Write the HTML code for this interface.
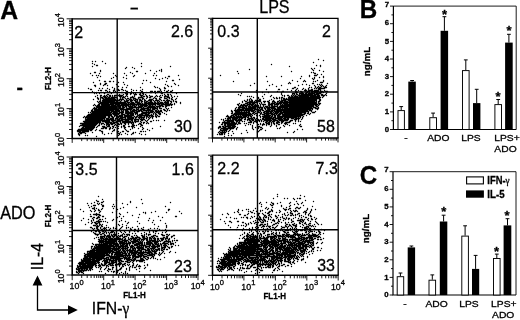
<!DOCTYPE html>
<html lang="en"><head><meta charset="utf-8"><title>Figure</title>
<style>html,body{margin:0;padding:0;background:#fff;overflow:hidden}svg{display:block}</style>
</head><body>
<svg width="520" height="320" viewBox="0 0 520 320" font-family='"Liberation Sans", sans-serif' fill="#000">
<style>text{stroke:#000;stroke-width:.3px}</style>
<rect width="520" height="320" fill="#fff"/>
<path d="M92.5 61h.01M95.5 61h.01M102.5 61h.01M92.5 63h.01M105.5 63h.01M141.5 63h.01M94.5 64h.01M96.5 65h1M92.5 66h.01M141.5 66h.01M170.5 66h.01M126.5 67h.01M132.5 67h.01M125.5 68h.01M134.5 68h.01M161.5 69h.01M100.5 70h.01M150.5 70h.01M159.5 70h.01M161.5 70h.01M100.5 71h.01M136.5 71h1M156.5 71h.01M161.5 71h.01M94.5 72h1M130.5 72h.01M90.5 73h.01M99.5 73h.01M113.5 73h.01M124.5 73h.01M132.5 73h.01M145.5 73h.01M154.5 73h.01M92.5 75h.01M96.5 75h.01M98.5 75h.01M115.5 75h.01M126.5 75h.01M134.5 75h.01M153.5 75h.01M156.5 75h.01M178.5 75h.01M100.5 76h.01M116.5 76h.01M133.5 76h.01M168.5 76h1M97.5 77h.01M113.5 77h.01M123.5 77h.01M165.5 77h.01M111.5 78h.01M126.5 78h.01M155.5 78h.01M162.5 78h.01M167.5 78h.01M159.5 79h.01M179.5 79h.01M99.5 80h.01M143.5 80h.01M146.5 80h.01M172.5 80h1M104.5 81h1M109.5 81h1M113.5 81h.01M166.5 81h.01M93.5 82h.01M118.5 82h.01M123.5 82h.01M150.5 82h.01M100.5 83h.01M105.5 83h1M142.5 83h.01M174.5 83h.01M100.5 84h.01M104.5 84h1M116.5 84h.01M124.5 84h.01M165.5 84h.01M175.5 84h.01M94.5 85h1M103.5 85h.01M107.5 85h.01M127.5 85h.01M167.5 85h.01M178.5 85h.01M95.5 86h.01M118.5 86h.01M154.5 86h.01M168.5 86h.01M171.5 86h.01M112.5 87h.01M122.5 87h.01M126.5 87h.01M140.5 87h.01M155.5 87h.01M157.5 87h.01M164.5 87h.01M88.5 88h.01M99.5 88h.01M102.5 88h.01M107.5 88h.01M114.5 88h.01M159.5 88h.01M164.5 88h1M90.5 89h1M109.5 89h.01M114.5 89h.01M117.5 89h1M121.5 89h1M131.5 89h.01M142.5 89h.01M160.5 89h.01M98.5 90h.01M100.5 90h1M105.5 90h1M113.5 90h1M118.5 90h1M123.5 90h.01M125.5 90h.01M133.5 90h.01M136.5 90h.01M140.5 90h.01M160.5 90h.01M164.5 90h.01M168.5 90h.01M172.5 90h.01M92.5 91h.01M107.5 91h.01M109.5 91h.01M113.5 91h.01M115.5 91h.01M126.5 91h1M131.5 91h.01M141.5 91h1M150.5 91h2M154.5 91h1M157.5 91h2M161.5 91h.01M166.5 91h1M170.5 91h1M94.5 92h.01M96.5 92h.01M101.5 92h.01M103.5 92h.01M105.5 92h.01M109.5 92h1M113.5 92h.01M121.5 92h1M139.5 92h.01M146.5 92h.01M150.5 92h1M155.5 92h.01M157.5 92h.01M160.5 92h.01M164.5 92h.01M167.5 92h.01M172.5 92h.01M94.5 93h.01M96.5 93h.01M99.5 93h.01M104.5 93h.01M111.5 93h.01M125.5 93h2M130.5 93h1M133.5 93h.01M135.5 93h.01M140.5 93h.01M142.5 93h1M155.5 93h.01M161.5 93h1M176.5 93h.01M107.5 94h1M119.5 94h.01M123.5 94h.01M126.5 94h1M130.5 94h.01M134.5 94h2M139.5 94h1M143.5 94h.01M145.5 94h.01M164.5 94h.01M167.5 94h1M170.5 94h.01M97.5 95h.01M100.5 95h1M104.5 95h.01M106.5 95h.01M109.5 95h1M112.5 95h.01M114.5 95h2M118.5 95h4M126.5 95h.01M134.5 95h.01M140.5 95h2M146.5 95h.01M149.5 95h.01M156.5 95h.01M160.5 95h.01M162.5 95h.01M165.5 95h.01M168.5 95h.01M171.5 95h.01M95.5 96h.01M100.5 96h.01M103.5 96h2M107.5 96h.01M109.5 96h1M112.5 96h.01M114.5 96h.01M119.5 96h2M123.5 96h.01M125.5 96h.01M127.5 96h.01M132.5 96h.01M134.5 96h.01M141.5 96h.01M143.5 96h1M146.5 96h1M150.5 96h2M155.5 96h.01M157.5 96h.01M159.5 96h.01M164.5 96h4M171.5 96h.01M174.5 96h.01M177.5 96h.01M97.5 97h.01M100.5 97h2M104.5 97h2M108.5 97h1M111.5 97h5M120.5 97h.01M122.5 97h2M130.5 97h3M138.5 97h4M147.5 97h.01M149.5 97h1M154.5 97h.01M160.5 97h1M164.5 97h.01M167.5 97h2M172.5 97h.01M97.5 98h1M100.5 98h.01M102.5 98h1M105.5 98h9M117.5 98h.01M120.5 98h.01M122.5 98h.01M125.5 98h.01M127.5 98h1M130.5 98h.01M133.5 98h2M138.5 98h.01M142.5 98h1M146.5 98h.01M153.5 98h.01M155.5 98h1M159.5 98h.01M164.5 98h2M169.5 98h.01M171.5 98h.01M176.5 98h.01M93.5 99h.01M98.5 99h.01M100.5 99h.01M103.5 99h12M117.5 99h.01M119.5 99h4M126.5 99h.01M129.5 99h2M133.5 99h.01M135.5 99h2M139.5 99h1M142.5 99h.01M144.5 99h.01M149.5 99h3M156.5 99h.01M159.5 99h1M167.5 99h.01M171.5 99h1M175.5 99h.01M100.5 100h.01M102.5 100h17M121.5 100h.01M124.5 100h.01M126.5 100h2M130.5 100h2M134.5 100h1M137.5 100h.01M139.5 100h2M144.5 100h1M148.5 100h3M153.5 100h.01M155.5 100h3M161.5 100h.01M163.5 100h1M166.5 100h3M173.5 100h.01M97.5 101h.01M99.5 101h1M102.5 101h12M116.5 101h1M120.5 101h.01M124.5 101h3M130.5 101h1M135.5 101h2M139.5 101h.01M141.5 101h1M144.5 101h.01M146.5 101h1M150.5 101h1M154.5 101h.01M157.5 101h.01M159.5 101h.01M165.5 101h.01M167.5 101h1M170.5 101h1M173.5 101h.01M175.5 101h1M98.5 102h.01M100.5 102h25M127.5 102h2M131.5 102h2M135.5 102h4M141.5 102h.01M144.5 102h2M148.5 102h4M154.5 102h1M157.5 102h1M160.5 102h2M164.5 102h4M171.5 102h.01M176.5 102h.01M180.5 102h.01M99.5 103h9M110.5 103h16M128.5 103h.01M130.5 103h4M137.5 103h3M142.5 103h.01M144.5 103h19M165.5 103h3M170.5 103h.01M174.5 103h.01M180.5 103h.01M94.5 104h.01M98.5 104h1M101.5 104h12M115.5 104h4M121.5 104h25M148.5 104h7M157.5 104h2M161.5 104h11M174.5 104h.01M93.5 105h.01M95.5 105h.01M97.5 105h2M101.5 105h8M111.5 105h4M117.5 105h11M130.5 105h.01M132.5 105h2M136.5 105h.01M138.5 105h.01M140.5 105h7M149.5 105h1M152.5 105h.01M155.5 105h.01M159.5 105h3M165.5 105h4M171.5 105h.01M96.5 106h20M118.5 106h2M122.5 106h1M125.5 106h1M128.5 106h4M134.5 106h1M138.5 106h4M144.5 106h2M148.5 106h6M156.5 106h4M162.5 106h1M165.5 106h1M94.5 107h.01M96.5 107h20M118.5 107h2M122.5 107h2M126.5 107h.01M129.5 107h12M143.5 107h.01M147.5 107h8M157.5 107h.01M159.5 107h.01M165.5 107h.01M171.5 107h.01M93.5 108h3M98.5 108h18M118.5 108h5M126.5 108h6M136.5 108h.01M138.5 108h.01M141.5 108h7M150.5 108h.01M152.5 108h5M159.5 108h2M166.5 108h.01M168.5 108h.01M92.5 109h.01M94.5 109h24M120.5 109h11M133.5 109h1M136.5 109h2M140.5 109h4M147.5 109h3M152.5 109h2M157.5 109h.01M163.5 109h1M167.5 109h.01M91.5 110h1M94.5 110h19M115.5 110h4M121.5 110h.01M123.5 110h.01M125.5 110h2M130.5 110h.01M132.5 110h4M138.5 110h3M143.5 110h9M155.5 110h1M158.5 110h.01M160.5 110h1M164.5 110h1M167.5 110h.01M169.5 110h.01M91.5 111h18M111.5 111h5M118.5 111h1M121.5 111h2M125.5 111h3M130.5 111h4M136.5 111h3M141.5 111h1M146.5 111h.01M148.5 111h.01M150.5 111h3M155.5 111h6M166.5 111h.01M88.5 112h.01M90.5 112h.01M92.5 112h19M113.5 112h3M119.5 112h4M125.5 112h7M134.5 112h3M142.5 112h10M154.5 112h.01M156.5 112h3M162.5 112h.01M91.5 113h19M112.5 113h7M121.5 113h1M125.5 113h8M135.5 113h2M141.5 113h5M148.5 113h1M153.5 113h.01M155.5 113h.01M158.5 113h2M164.5 113h.01M88.5 114h23M113.5 114h3M118.5 114h.01M121.5 114h3M127.5 114h1M130.5 114h3M135.5 114h.01M137.5 114h.01M139.5 114h3M145.5 114h3M151.5 114h.01M153.5 114h.01M155.5 114h1M159.5 114h1M166.5 114h.01M87.5 115h24M114.5 115h2M119.5 115h3M124.5 115h9M137.5 115h15M155.5 115h.01M157.5 115h.01M84.5 116h.01M86.5 116h19M108.5 116h1M111.5 116h1M114.5 116h.01M116.5 116h6M124.5 116h7M134.5 116h.01M136.5 116h1M139.5 116h2M144.5 116h.01M146.5 116h1M149.5 116h.01M151.5 116h2M155.5 116h1M158.5 116h1M83.5 117h.01M85.5 117h20M108.5 117h1M112.5 117h1M116.5 117h.01M118.5 117h.01M120.5 117h5M127.5 117h6M135.5 117h1M138.5 117h6M146.5 117h.01M148.5 117h.01M150.5 117h.01M152.5 117h.01M156.5 117h.01M85.5 118h.01M87.5 118h17M106.5 118h2M110.5 118h3M115.5 118h2M119.5 118h3M125.5 118h.01M127.5 118h6M135.5 118h.01M139.5 118h.01M141.5 118h.01M143.5 118h.01M146.5 118h.01M149.5 118h.01M152.5 118h.01M85.5 119h17M104.5 119h.01M106.5 119h7M115.5 119h.01M117.5 119h2M121.5 119h11M134.5 119h4M140.5 119h4M148.5 119h.01M85.5 120h24M111.5 120h4M117.5 120h5M125.5 120h3M131.5 120h1M134.5 120h1M138.5 120h.01M141.5 120h1M145.5 120h.01M147.5 120h.01M153.5 120h.01M156.5 120h.01M158.5 120h.01M164.5 120h.01M83.5 121h17M102.5 121h7M112.5 121h1M116.5 121h4M122.5 121h8M132.5 121h.01M134.5 121h4M140.5 121h.01M146.5 121h.01M150.5 121h1M84.5 122h16M105.5 122h6M113.5 122h3M120.5 122h.01M122.5 122h11M135.5 122h.01M141.5 122h.01M143.5 122h1M147.5 122h.01M80.5 123h17M99.5 123h.01M101.5 123h2M106.5 123h2M110.5 123h4M117.5 123h1M120.5 123h1M124.5 123h1M128.5 123h.01M131.5 123h.01M133.5 123h.01M139.5 123h1M143.5 123h.01M146.5 123h.01M148.5 123h.01M82.5 124h14M99.5 124h.01M101.5 124h.01M104.5 124h.01M106.5 124h3M111.5 124h1M115.5 124h.01M118.5 124h1M121.5 124h.01M125.5 124h.01M128.5 124h.01M132.5 124h1M138.5 124h.01M140.5 124h1M80.5 125h15M98.5 125h1M106.5 125h.01M108.5 125h1M114.5 125h.01M116.5 125h1M123.5 125h1M132.5 125h2M136.5 125h.01M141.5 125h1M79.5 126h.01M83.5 126h11M97.5 126h.01M102.5 126h2M107.5 126h2M112.5 126h1M118.5 126h.01M121.5 126h.01M123.5 126h1M128.5 126h1M131.5 126h2M140.5 126h.01M160.5 126h.01M82.5 127h1M85.5 127h9M96.5 127h.01M103.5 127h3M110.5 127h.01M113.5 127h.01M115.5 127h.01M121.5 127h.01M124.5 127h1M132.5 127h.01M134.5 127h.01M142.5 127h.01M81.5 128h12M101.5 128h2M105.5 128h1M109.5 128h1M112.5 128h.01M117.5 128h1M124.5 128h.01M132.5 128h.01M138.5 128h.01M143.5 128h.01M152.5 128h.01M78.5 129h14M96.5 129h.01M109.5 129h.01M114.5 129h.01M125.5 129h.01M130.5 129h.01M142.5 129h.01M147.5 129h.01M77.5 130h11M90.5 130h1M95.5 130h.01M99.5 130h1M113.5 130h1M126.5 130h.01M149.5 130h.01M77.5 131h3M82.5 131h6M101.5 131h1M112.5 131h.01M117.5 131h1M122.5 131h1M127.5 131h1M140.5 131h1M143.5 131h.01M145.5 131h.01M79.5 132h5M92.5 132h.01M102.5 132h.01M117.5 132h.01M120.5 132h.01M133.5 132h.01M135.5 132h.01M78.5 133h.01M80.5 133h1M85.5 133h.01M102.5 133h.01M108.5 133h.01M111.5 133h.01M118.5 133h1M125.5 133h.01M132.5 133h1M139.5 133h.01M78.5 134h1M104.5 134h.01M119.5 134h.01M121.5 134h.01M127.5 134h.01M131.5 134h.01M141.5 134h.01M145.5 134h.01M79.5 135h.01M85.5 135h.01M87.5 135h.01M118.5 135h.01M96.5 136h.01" stroke="#000" stroke-width="1.4" stroke-linecap="round" fill="none" transform="translate(0 0.5)"/>
<path d="M72.2 18.8H198.2V138.5" stroke="#000" stroke-width="1.3" fill="none"/>
<path d="M72.2 18.3V138.5H198.7" stroke="#000" stroke-width="1.6" fill="none"/>
<path d="M117.2 18.8V138.5M72.2 92.6H198.2" stroke="#000" stroke-width="1.4" fill="none"/>
<path d="M72.2 138.5v4.4M72.2 138.5h-5.6M81.7 138.5v2.6M72.2 129.5h-3.2M87.2 138.5v2.6M72.2 124.2h-3.2M91.2 138.5v2.6M72.2 120.5h-3.2M94.2 138.5v2.6M72.2 117.6h-3.2M96.7 138.5v2.6M72.2 115.2h-3.2M98.8 138.5v2.6M72.2 113.2h-3.2M100.6 138.5v2.6M72.2 111.5h-3.2M102.3 138.5v2.6M72.2 109.9h-3.2M103.7 138.5v4.4M72.2 108.6h-5.6M113.2 138.5v2.6M72.2 99.6h-3.2M118.7 138.5v2.6M72.2 94.3h-3.2M122.7 138.5v2.6M72.2 90.6h-3.2M125.7 138.5v2.6M72.2 87.7h-3.2M128.2 138.5v2.6M72.2 85.3h-3.2M130.3 138.5v2.6M72.2 83.3h-3.2M132.1 138.5v2.6M72.2 81.6h-3.2M133.8 138.5v2.6M72.2 80.0h-3.2M135.2 138.5v4.4M72.2 78.7h-5.6M144.7 138.5v2.6M72.2 69.6h-3.2M150.2 138.5v2.6M72.2 64.4h-3.2M154.2 138.5v2.6M72.2 60.6h-3.2M157.2 138.5v2.6M72.2 57.7h-3.2M159.7 138.5v2.6M72.2 55.4h-3.2M161.8 138.5v2.6M72.2 53.4h-3.2M163.6 138.5v2.6M72.2 51.6h-3.2M165.3 138.5v2.6M72.2 50.1h-3.2M166.7 138.5v4.4M72.2 48.7h-5.6M176.2 138.5v2.6M72.2 39.7h-3.2M181.7 138.5v2.6M72.2 34.4h-3.2M185.7 138.5v2.6M72.2 30.7h-3.2M188.7 138.5v2.6M72.2 27.8h-3.2M191.2 138.5v2.6M72.2 25.4h-3.2M193.3 138.5v2.6M72.2 23.4h-3.2M195.1 138.5v2.6M72.2 21.7h-3.2M196.8 138.5v2.6M72.2 20.2h-3.2M198.2 138.5v4.4M72.2 18.8h-5.6" stroke="#000" stroke-width="0.9" fill="none"/>
<text font-size="8.8" text-anchor="middle" transform="translate(63.900000000000006 139.8) rotate(-90)">10<tspan dy="-4.4" font-size="7.5">0</tspan></text>
<text font-size="8.8" text-anchor="middle" transform="translate(63.900000000000006 109.875) rotate(-90)">10<tspan dy="-4.4" font-size="7.5">1</tspan></text>
<text font-size="8.8" text-anchor="middle" transform="translate(63.900000000000006 79.95) rotate(-90)">10<tspan dy="-4.4" font-size="7.5">2</tspan></text>
<text font-size="8.8" text-anchor="middle" transform="translate(63.900000000000006 50.02499999999999) rotate(-90)">10<tspan dy="-4.4" font-size="7.5">3</tspan></text>
<text font-size="8.8" text-anchor="middle" transform="translate(63.900000000000006 20.099999999999998) rotate(-90)">10<tspan dy="-4.4" font-size="7.5">4</tspan></text>
<text transform="translate(51.2 78.65) rotate(-90) scale(0.89 1)" font-size="9" text-anchor="middle" font-weight="bold">FL2-H</text>
<path d="M318.5 59h.01M323.5 60h.01M313.5 62h.01M271.5 64h.01M316.5 65h.01M320.5 65h.01M289.5 66h.01M320.5 66h.01M311.5 68h.01M314.5 68h.01M249.5 69h.01M312.5 69h.01M313.5 70h.01M319.5 70h.01M237.5 71h.01M291.5 71h.01M323.5 71h.01M311.5 72h.01M313.5 72h.01M238.5 73h.01M314.5 73h1M317.5 74h.01M321.5 74h.01M220.5 75h.01M309.5 75h.01M314.5 75h2M266.5 76h.01M281.5 76h.01M301.5 76h.01M309.5 76h.01M323.5 76h.01M314.5 77h.01M319.5 77h.01M323.5 77h.01M300.5 78h.01M312.5 78h.01M314.5 78h.01M313.5 79h.01M292.5 80h.01M304.5 80h.01M317.5 80h.01M323.5 80h.01M233.5 81h.01M267.5 81h.01M297.5 81h.01M303.5 81h.01M305.5 81h.01M313.5 81h.01M315.5 81h.01M323.5 81h.01M289.5 82h.01M320.5 82h2M254.5 83h.01M288.5 83h.01M290.5 83h.01M312.5 83h1M327.5 83h.01M272.5 84h.01M302.5 84h.01M306.5 84h.01M317.5 84h.01M319.5 84h.01M321.5 84h.01M250.5 85h.01M269.5 85h.01M281.5 85h.01M298.5 85h.01M309.5 85h.01M314.5 85h.01M320.5 85h.01M322.5 85h.01M326.5 85h.01M276.5 86h.01M315.5 86h.01M318.5 86h.01M321.5 86h.01M323.5 86h.01M325.5 86h.01M294.5 87h1M309.5 87h.01M311.5 87h.01M315.5 87h.01M317.5 87h.01M319.5 87h1M324.5 87h2M292.5 88h1M297.5 88h.01M303.5 88h.01M308.5 88h.01M314.5 88h.01M316.5 88h.01M318.5 88h6M266.5 89h.01M278.5 89h1M287.5 89h.01M296.5 89h.01M302.5 89h.01M305.5 89h.01M308.5 89h.01M311.5 89h1M318.5 89h2M256.5 90h.01M291.5 90h.01M295.5 90h.01M298.5 90h.01M304.5 90h2M308.5 90h4M314.5 90h4M320.5 90h.01M324.5 90h.01M277.5 91h.01M282.5 91h1M295.5 91h1M300.5 91h1M305.5 91h.01M307.5 91h2M311.5 91h7M320.5 91h2M325.5 91h2M256.5 92h.01M262.5 92h.01M268.5 92h.01M281.5 92h.01M295.5 92h2M301.5 92h1M306.5 92h1M309.5 92h.01M311.5 92h1M314.5 92h3M319.5 92h2M323.5 92h.01M241.5 93h.01M281.5 93h.01M292.5 93h2M296.5 93h.01M299.5 93h4M305.5 93h1M308.5 93h6M316.5 93h4M326.5 93h.01M238.5 94h.01M264.5 94h.01M281.5 94h.01M292.5 94h.01M294.5 94h.01M296.5 94h1M299.5 94h.01M301.5 94h11M314.5 94h4M321.5 94h1M325.5 94h.01M240.5 95h.01M271.5 95h.01M282.5 95h.01M284.5 95h.01M287.5 95h1M291.5 95h.01M293.5 95h.01M295.5 95h.01M298.5 95h17M317.5 95h2M321.5 95h3M326.5 95h.01M247.5 96h.01M249.5 96h.01M251.5 96h.01M262.5 96h.01M270.5 96h.01M284.5 96h.01M289.5 96h.01M291.5 96h1M294.5 96h3M299.5 96h9M310.5 96h9M323.5 96h.01M253.5 97h.01M258.5 97h.01M273.5 97h.01M276.5 97h.01M279.5 97h.01M281.5 97h1M288.5 97h32M322.5 97h.01M250.5 98h.01M258.5 98h.01M263.5 98h.01M274.5 98h.01M276.5 98h1M279.5 98h.01M281.5 98h.01M283.5 98h1M286.5 98h.01M288.5 98h31M247.5 99h.01M249.5 99h.01M251.5 99h.01M259.5 99h1M271.5 99h.01M281.5 99h.01M283.5 99h33M319.5 99h1M244.5 100h.01M247.5 100h.01M249.5 100h.01M251.5 100h1M255.5 100h1M258.5 100h2M269.5 100h.01M273.5 100h.01M279.5 100h.01M281.5 100h4M288.5 100h28M319.5 100h1M242.5 101h.01M245.5 101h1M249.5 101h3M254.5 101h.01M256.5 101h.01M258.5 101h2M263.5 101h2M267.5 101h1M272.5 101h2M277.5 101h1M280.5 101h2M284.5 101h3M289.5 101h25M316.5 101h.01M318.5 101h1M242.5 102h.01M247.5 102h10M261.5 102h.01M264.5 102h.01M268.5 102h1M272.5 102h.01M274.5 102h1M277.5 102h.01M279.5 102h37M318.5 102h.01M239.5 103h.01M245.5 103h2M249.5 103h1M252.5 103h2M259.5 103h.01M261.5 103h.01M268.5 103h1M271.5 103h3M276.5 103h5M283.5 103h4M289.5 103h27M318.5 103h2M237.5 104h1M241.5 104h.01M243.5 104h1M247.5 104h6M255.5 104h.01M257.5 104h.01M260.5 104h.01M262.5 104h3M268.5 104h4M274.5 104h4M280.5 104h.01M282.5 104h.01M284.5 104h33M319.5 104h.01M238.5 105h.01M240.5 105h7M249.5 105h.01M251.5 105h1M254.5 105h2M258.5 105h.01M260.5 105h.01M263.5 105h.01M268.5 105h1M271.5 105h1M274.5 105h.01M277.5 105h.01M280.5 105h33M315.5 105h1M318.5 105h.01M239.5 106h1M242.5 106h1M245.5 106h1M248.5 106h2M252.5 106h4M258.5 106h.01M260.5 106h.01M263.5 106h.01M265.5 106h2M269.5 106h.01M271.5 106h6M279.5 106h34M316.5 106h1M236.5 107h.01M238.5 107h6M246.5 107h.01M248.5 107h7M257.5 107h5M264.5 107h.01M266.5 107h8M277.5 107h10M289.5 107h22M313.5 107h2M318.5 107h.01M235.5 108h.01M238.5 108h1M242.5 108h13M259.5 108h.01M261.5 108h1M264.5 108h1M267.5 108h2M271.5 108h4M277.5 108h3M282.5 108h.01M284.5 108h28M315.5 108h3M235.5 109h.01M237.5 109h6M245.5 109h7M254.5 109h4M260.5 109h2M265.5 109h.01M267.5 109h3M272.5 109h.01M274.5 109h36M312.5 109h.01M317.5 109h.01M231.5 110h.01M234.5 110h20M257.5 110h3M262.5 110h1M266.5 110h3M271.5 110h3M276.5 110h31M309.5 110h2M231.5 111h1M235.5 111h4M241.5 111h.01M244.5 111h.01M246.5 111h.01M248.5 111h1M251.5 111h2M255.5 111h.01M257.5 111h1M260.5 111h.01M264.5 111h8M274.5 111h7M283.5 111h25M311.5 111h.01M315.5 111h.01M232.5 112h.01M235.5 112h14M253.5 112h1M258.5 112h1M261.5 112h.01M263.5 112h1M266.5 112h2M270.5 112h1M273.5 112h.01M275.5 112h3M280.5 112h25M308.5 112h.01M312.5 112h2M231.5 113h1M234.5 113h12M248.5 113h2M252.5 113h1M255.5 113h1M260.5 113h1M264.5 113h8M274.5 113h3M279.5 113h3M284.5 113h17M304.5 113h1M307.5 113h1M310.5 113h.01M233.5 114h18M254.5 114h.01M260.5 114h.01M262.5 114h2M266.5 114h2M271.5 114h3M276.5 114h.01M278.5 114h2M282.5 114h22M309.5 114h.01M227.5 115h.01M231.5 115h2M235.5 115h1M238.5 115h.01M240.5 115h.01M242.5 115h8M252.5 115h.01M256.5 115h1M259.5 115h.01M264.5 115h6M272.5 115h.01M274.5 115h1M277.5 115h2M282.5 115h20M306.5 115h.01M226.5 116h2M230.5 116h1M233.5 116h1M236.5 116h5M243.5 116h3M248.5 116h.01M250.5 116h1M257.5 116h.01M260.5 116h.01M262.5 116h7M271.5 116h1M274.5 116h1M277.5 116h23M303.5 116h.01M228.5 117h17M247.5 117h1M251.5 117h.01M253.5 117h1M260.5 117h.01M263.5 117h8M273.5 117h2M277.5 117h5M284.5 117h12M298.5 117h.01M300.5 117h.01M302.5 117h.01M225.5 118h.01M227.5 118h3M232.5 118h5M239.5 118h.01M241.5 118h1M245.5 118h.01M248.5 118h4M254.5 118h.01M256.5 118h.01M262.5 118h1M265.5 118h8M275.5 118h6M283.5 118h2M287.5 118h1M291.5 118h2M295.5 118h4M302.5 118h.01M221.5 119h.01M223.5 119h.01M227.5 119h1M230.5 119h.01M232.5 119h4M238.5 119h3M244.5 119h1M247.5 119h2M251.5 119h2M255.5 119h.01M258.5 119h.01M260.5 119h.01M262.5 119h8M272.5 119h3M278.5 119h4M284.5 119h4M294.5 119h2M298.5 119h.01M301.5 119h.01M223.5 120h.01M225.5 120h8M235.5 120h6M247.5 120h.01M249.5 120h1M252.5 120h1M255.5 120h4M261.5 120h.01M264.5 120h7M273.5 120h4M279.5 120h8M290.5 120h2M295.5 120h.01M298.5 120h.01M224.5 121h.01M227.5 121h6M236.5 121h1M239.5 121h.01M242.5 121h.01M244.5 121h.01M250.5 121h1M254.5 121h2M259.5 121h.01M261.5 121h.01M263.5 121h.01M266.5 121h1M269.5 121h1M272.5 121h2M277.5 121h1M281.5 121h2M289.5 121h1M295.5 121h.01M298.5 121h.01M300.5 121h.01M219.5 122h.01M222.5 122h7M231.5 122h3M236.5 122h.01M238.5 122h1M248.5 122h3M253.5 122h.01M256.5 122h.01M265.5 122h1M268.5 122h1M271.5 122h.01M273.5 122h.01M276.5 122h3M281.5 122h1M285.5 122h4M222.5 123h.01M224.5 123h12M238.5 123h2M244.5 123h.01M246.5 123h.01M253.5 123h.01M260.5 123h.01M263.5 123h.01M266.5 123h3M271.5 123h.01M273.5 123h1M276.5 123h1M281.5 123h.01M284.5 123h2M293.5 123h.01M295.5 123h.01M221.5 124h1M224.5 124h1M227.5 124h8M237.5 124h.01M248.5 124h.01M250.5 124h.01M258.5 124h.01M260.5 124h.01M262.5 124h2M266.5 124h.01M268.5 124h1M271.5 124h.01M274.5 124h.01M278.5 124h1M285.5 124h.01M287.5 124h.01M300.5 124h.01M224.5 125h1M227.5 125h7M245.5 125h.01M252.5 125h.01M262.5 125h.01M266.5 125h.01M271.5 125h.01M276.5 125h.01M283.5 125h.01M289.5 125h.01M299.5 125h.01M219.5 126h1M222.5 126h1M225.5 126h5M232.5 126h3M252.5 126h.01M258.5 126h1M270.5 126h.01M276.5 126h.01M284.5 126h.01M300.5 126h1M218.5 127h2M223.5 127h2M228.5 127h6M237.5 127h.01M252.5 127h.01M255.5 127h.01M258.5 127h.01M260.5 127h1M280.5 127h.01M218.5 128h.01M221.5 128h12M236.5 128h.01M252.5 128h.01M258.5 128h.01M262.5 128h.01M277.5 128h.01M279.5 128h.01M220.5 129h.01M223.5 129h4M230.5 129h.01M236.5 129h.01M253.5 129h.01M260.5 129h1M297.5 129h.01M302.5 129h.01M220.5 130h6M229.5 130h.01M246.5 130h.01M259.5 130h.01M265.5 130h.01M219.5 131h.01M222.5 131h.01M224.5 131h.01M226.5 131h.01M228.5 131h.01M232.5 131h.01M257.5 131h1M294.5 131h.01M218.5 132h.01M220.5 132h5M247.5 132h.01M257.5 132h.01M287.5 132h.01M293.5 132h.01M219.5 133h.01M221.5 133h1M224.5 133h.01M228.5 133h.01M233.5 133h.01M241.5 133h.01M217.5 134h.01M219.5 134h3M224.5 134h.01M228.5 135h.01M231.5 135h.01M224.5 136h.01" stroke="#000" stroke-width="1.4" stroke-linecap="round" fill="none" transform="translate(0 0.5)"/>
<path d="M212.5 18.3H338V138" stroke="#000" stroke-width="1.3" fill="none"/>
<path d="M212.5 17.8V138H338.5" stroke="#000" stroke-width="1.6" fill="none"/>
<path d="M257.3 18.3V138M212.5 92H338" stroke="#000" stroke-width="1.4" fill="none"/>
<path d="M212.5 138v4.4M212.5 138.0h-4.4M221.9 138v2.6M212.5 129.0h-2.5M227.5 138v2.6M212.5 123.7h-2.5M231.4 138v2.6M212.5 120.0h-2.5M234.4 138v2.6M212.5 117.1h-2.5M236.9 138v2.6M212.5 114.7h-2.5M239.0 138v2.6M212.5 112.7h-2.5M240.8 138v2.6M212.5 111.0h-2.5M242.4 138v2.6M212.5 109.4h-2.5M243.9 138v4.4M212.5 108.1h-4.4M253.3 138v2.6M212.5 99.1h-2.5M258.8 138v2.6M212.5 93.8h-2.5M262.8 138v2.6M212.5 90.1h-2.5M265.8 138v2.6M212.5 87.2h-2.5M268.3 138v2.6M212.5 84.8h-2.5M270.4 138v2.6M212.5 82.8h-2.5M272.2 138v2.6M212.5 81.1h-2.5M273.8 138v2.6M212.5 79.5h-2.5M275.2 138v4.4M212.5 78.2h-4.4M284.7 138v2.6M212.5 69.1h-2.5M290.2 138v2.6M212.5 63.9h-2.5M294.1 138v2.6M212.5 60.1h-2.5M297.2 138v2.6M212.5 57.2h-2.5M299.7 138v2.6M212.5 54.9h-2.5M301.8 138v2.6M212.5 52.9h-2.5M303.6 138v2.6M212.5 51.1h-2.5M305.2 138v2.6M212.5 49.6h-2.5M306.6 138v4.4M212.5 48.2h-4.4M316.1 138v2.6M212.5 39.2h-2.5M321.6 138v2.6M212.5 33.9h-2.5M325.5 138v2.6M212.5 30.2h-2.5M328.6 138v2.6M212.5 27.3h-2.5M331.0 138v2.6M212.5 24.9h-2.5M333.1 138v2.6M212.5 22.9h-2.5M335.0 138v2.6M212.5 21.2h-2.5M336.6 138v2.6M212.5 19.7h-2.5M338.0 138v4.4M212.5 18.3h-4.4" stroke="#000" stroke-width="0.9" fill="none"/>
<path d="M98.5 196h.01M102.5 199h.01M141.5 199h.01M96.5 200h.01M116.5 200h.01M97.5 201h1M103.5 201h.01M130.5 201h.01M94.5 202h.01M101.5 202h1M130.5 202h.01M170.5 202h.01M87.5 203h.01M91.5 203h.01M97.5 203h.01M99.5 203h.01M122.5 203h.01M142.5 203h.01M98.5 204h.01M101.5 204h.01M113.5 204h.01M127.5 204h.01M88.5 205h.01M93.5 205h2M102.5 205h1M91.5 206h.01M102.5 206h1M112.5 206h.01M114.5 206h.01M165.5 206h.01M89.5 207h.01M94.5 207h.01M123.5 207h.01M136.5 207h.01M92.5 208h2M96.5 208h.01M102.5 208h.01M113.5 208h.01M120.5 208h.01M80.5 209h.01M94.5 209h.01M98.5 209h.01M101.5 209h.01M117.5 209h.01M168.5 209h1M90.5 210h.01M95.5 210h.01M98.5 210h1M168.5 210h.01M83.5 211h.01M91.5 211h.01M94.5 211h.01M100.5 211h.01M116.5 211h.01M155.5 211h.01M179.5 211h.01M99.5 212h.01M112.5 212h.01M127.5 212h.01M143.5 212h.01M145.5 212h.01M151.5 212h.01M166.5 212h.01M96.5 213h.01M119.5 213h.01M145.5 213h.01M181.5 213h.01M90.5 214h.01M93.5 214h6M120.5 214h.01M139.5 214h.01M96.5 215h.01M99.5 215h1M132.5 215h.01M90.5 216h1M98.5 216h.01M102.5 216h1M119.5 216h.01M123.5 216h.01M158.5 216h.01M175.5 216h1M93.5 217h1M97.5 217h2M116.5 217h1M138.5 217h.01M162.5 217h.01M83.5 218h.01M92.5 218h.01M96.5 218h1M105.5 218h.01M121.5 218h.01M149.5 218h.01M88.5 219h.01M93.5 219h.01M99.5 219h1M102.5 219h.01M113.5 219h.01M81.5 220h.01M91.5 220h.01M93.5 220h.01M98.5 220h.01M112.5 220h.01M121.5 220h.01M148.5 220h.01M153.5 220h.01M160.5 220h.01M91.5 221h.01M96.5 221h5M103.5 221h.01M105.5 221h.01M119.5 221h.01M125.5 221h.01M137.5 221h.01M88.5 222h.01M92.5 222h.01M94.5 222h1M98.5 222h1M107.5 222h.01M128.5 222h.01M152.5 222h.01M91.5 223h.01M95.5 223h2M99.5 223h.01M127.5 223h.01M139.5 223h.01M165.5 223h.01M85.5 224h.01M96.5 224h.01M99.5 224h1M102.5 224h.01M118.5 224h.01M122.5 224h.01M154.5 224h.01M93.5 225h2M97.5 225h.01M99.5 225h.01M101.5 225h.01M106.5 225h.01M119.5 225h.01M126.5 225h.01M166.5 225h.01M96.5 226h2M101.5 226h1M116.5 226h.01M122.5 226h.01M137.5 226h.01M158.5 226h.01M166.5 226h.01M90.5 227h1M96.5 227h1M100.5 227h.01M104.5 227h.01M106.5 227h.01M108.5 227h.01M113.5 227h.01M121.5 227h.01M126.5 227h.01M128.5 227h.01M132.5 227h.01M143.5 227h.01M166.5 227h.01M92.5 228h.01M94.5 228h.01M96.5 228h1M100.5 228h.01M103.5 228h2M110.5 228h.01M113.5 228h.01M115.5 228h1M120.5 228h.01M126.5 228h.01M130.5 228h.01M138.5 228h.01M141.5 228h.01M150.5 228h.01M154.5 228h.01M157.5 228h.01M93.5 229h.01M97.5 229h1M101.5 229h1M104.5 229h.01M106.5 229h.01M109.5 229h.01M116.5 229h.01M119.5 229h.01M130.5 229h1M134.5 229h1M138.5 229h.01M142.5 229h1M148.5 229h.01M159.5 229h.01M165.5 229h.01M98.5 230h1M101.5 230h.01M104.5 230h.01M106.5 230h.01M108.5 230h.01M130.5 230h.01M135.5 230h.01M137.5 230h1M147.5 230h.01M149.5 230h.01M152.5 230h.01M157.5 230h.01M162.5 230h.01M91.5 231h.01M95.5 231h1M98.5 231h1M102.5 231h1M105.5 231h.01M111.5 231h2M116.5 231h.01M120.5 231h.01M124.5 231h.01M129.5 231h.01M134.5 231h.01M137.5 231h1M149.5 231h.01M153.5 231h.01M155.5 231h1M166.5 231h.01M93.5 232h.01M99.5 232h1M104.5 232h.01M106.5 232h.01M108.5 232h.01M110.5 232h2M114.5 232h.01M121.5 232h.01M125.5 232h.01M129.5 232h.01M144.5 232h.01M149.5 232h.01M153.5 232h.01M162.5 232h.01M165.5 232h.01M94.5 233h1M99.5 233h.01M102.5 233h1M106.5 233h.01M109.5 233h.01M114.5 233h.01M118.5 233h.01M123.5 233h.01M132.5 233h.01M135.5 233h.01M141.5 233h.01M146.5 233h.01M155.5 233h.01M158.5 233h.01M95.5 234h3M100.5 234h1M104.5 234h.01M109.5 234h.01M111.5 234h.01M113.5 234h3M122.5 234h.01M124.5 234h.01M126.5 234h3M144.5 234h.01M146.5 234h.01M148.5 234h2M161.5 234h1M166.5 234h1M169.5 234h.01M97.5 235h.01M104.5 235h1M107.5 235h2M111.5 235h1M114.5 235h1M118.5 235h.01M120.5 235h2M127.5 235h.01M129.5 235h.01M134.5 235h.01M136.5 235h.01M141.5 235h1M144.5 235h.01M148.5 235h.01M153.5 235h2M162.5 235h2M168.5 235h.01M173.5 235h1M100.5 236h4M106.5 236h4M112.5 236h2M117.5 236h.01M119.5 236h1M122.5 236h.01M124.5 236h2M131.5 236h1M137.5 236h.01M142.5 236h2M146.5 236h.01M151.5 236h2M156.5 236h1M166.5 236h1M171.5 236h1M96.5 237h.01M98.5 237h.01M100.5 237h2M104.5 237h.01M106.5 237h.01M108.5 237h2M113.5 237h.01M117.5 237h1M123.5 237h1M128.5 237h.01M132.5 237h1M135.5 237h4M142.5 237h2M147.5 237h.01M149.5 237h1M152.5 237h.01M154.5 237h.01M163.5 237h1M166.5 237h1M171.5 237h.01M94.5 238h.01M100.5 238h3M105.5 238h2M109.5 238h3M114.5 238h6M122.5 238h.01M125.5 238h.01M128.5 238h.01M130.5 238h6M139.5 238h1M143.5 238h4M149.5 238h2M153.5 238h2M157.5 238h1M160.5 238h3M165.5 238h2M169.5 238h.01M174.5 238h.01M98.5 239h1M101.5 239h.01M103.5 239h12M117.5 239h5M124.5 239h1M128.5 239h1M131.5 239h.01M133.5 239h2M137.5 239h2M141.5 239h3M146.5 239h1M149.5 239h.01M151.5 239h.01M154.5 239h1M157.5 239h1M161.5 239h2M165.5 239h.01M168.5 239h1M99.5 240h4M105.5 240h1M108.5 240h8M119.5 240h.01M122.5 240h5M130.5 240h.01M133.5 240h4M139.5 240h.01M141.5 240h.01M143.5 240h.01M146.5 240h1M149.5 240h6M157.5 240h.01M159.5 240h.01M161.5 240h1M166.5 240h.01M168.5 240h.01M172.5 240h.01M174.5 240h.01M176.5 240h1M98.5 241h17M118.5 241h4M124.5 241h2M128.5 241h.01M131.5 241h7M140.5 241h.01M142.5 241h.01M147.5 241h3M152.5 241h6M160.5 241h.01M164.5 241h6M172.5 241h.01M99.5 242h4M105.5 242h9M116.5 242h.01M119.5 242h5M126.5 242h.01M128.5 242h2M132.5 242h3M138.5 242h4M144.5 242h.01M146.5 242h5M154.5 242h3M163.5 242h1M168.5 242h.01M170.5 242h.01M175.5 242h.01M92.5 243h.01M99.5 243h.01M101.5 243h.01M103.5 243h12M117.5 243h.01M119.5 243h11M132.5 243h1M136.5 243h6M144.5 243h.01M146.5 243h6M154.5 243h2M158.5 243h.01M160.5 243h.01M162.5 243h5M170.5 243h3M93.5 244h.01M95.5 244h12M109.5 244h2M113.5 244h5M120.5 244h.01M122.5 244h2M126.5 244h1M129.5 244h.01M134.5 244h5M141.5 244h1M144.5 244h.01M146.5 244h4M152.5 244h1M155.5 244h3M160.5 244h1M164.5 244h1M168.5 244h.01M170.5 244h1M173.5 244h.01M95.5 245h1M98.5 245h15M115.5 245h.01M117.5 245h1M120.5 245h3M125.5 245h2M129.5 245h.01M131.5 245h1M134.5 245h3M139.5 245h6M149.5 245h1M152.5 245h2M157.5 245h2M161.5 245h.01M163.5 245h3M175.5 245h.01M178.5 245h.01M91.5 246h1M94.5 246h.01M96.5 246h19M117.5 246h10M130.5 246h3M137.5 246h2M141.5 246h.01M143.5 246h.01M145.5 246h4M151.5 246h8M161.5 246h.01M164.5 246h1M167.5 246h.01M171.5 246h1M91.5 247h.01M94.5 247h16M113.5 247h1M118.5 247h2M122.5 247h1M125.5 247h.01M127.5 247h1M130.5 247h2M134.5 247h.01M136.5 247h7M145.5 247h1M149.5 247h.01M152.5 247h3M157.5 247h.01M161.5 247h4M168.5 247h1M171.5 247h.01M91.5 248h.01M93.5 248h26M121.5 248h6M130.5 248h.01M132.5 248h3M137.5 248h6M147.5 248h1M150.5 248h4M158.5 248h1M161.5 248h1M164.5 248h.01M169.5 248h.01M92.5 249h2M96.5 249h14M112.5 249h6M120.5 249h.01M122.5 249h1M125.5 249h.01M127.5 249h.01M129.5 249h1M132.5 249h1M135.5 249h.01M138.5 249h1M141.5 249h4M147.5 249h2M151.5 249h.01M153.5 249h.01M155.5 249h4M161.5 249h.01M163.5 249h1M166.5 249h1M90.5 250h22M114.5 250h2M118.5 250h2M122.5 250h2M126.5 250h9M137.5 250h4M145.5 250h4M151.5 250h1M154.5 250h.01M156.5 250h1M159.5 250h.01M161.5 250h1M87.5 251h7M96.5 251h17M117.5 251h2M121.5 251h.01M123.5 251h2M127.5 251h.01M129.5 251h3M134.5 251h3M140.5 251h1M143.5 251h.01M145.5 251h.01M148.5 251h2M152.5 251h4M163.5 251h.01M170.5 251h.01M87.5 252h.01M89.5 252h21M112.5 252h10M124.5 252h1M127.5 252h.01M129.5 252h22M154.5 252h1M159.5 252h.01M162.5 252h.01M169.5 252h.01M175.5 252h.01M84.5 253h.01M87.5 253h20M109.5 253h.01M111.5 253h1M115.5 253h.01M117.5 253h3M122.5 253h4M128.5 253h1M131.5 253h5M138.5 253h5M147.5 253h2M151.5 253h1M154.5 253h2M159.5 253h.01M161.5 253h.01M164.5 253h.01M85.5 254h19M106.5 254h2M111.5 254h1M114.5 254h8M125.5 254h1M128.5 254h1M131.5 254h.01M133.5 254h2M137.5 254h1M140.5 254h2M144.5 254h2M149.5 254h5M158.5 254h.01M160.5 254h.01M84.5 255h1M87.5 255h22M111.5 255h.01M114.5 255h.01M116.5 255h14M132.5 255h3M138.5 255h5M147.5 255h5M154.5 255h.01M159.5 255h.01M84.5 256h20M109.5 256h14M125.5 256h.01M127.5 256h.01M129.5 256h.01M132.5 256h9M143.5 256h3M152.5 256h1M84.5 257h3M89.5 257h14M106.5 257h2M110.5 257h9M123.5 257h3M128.5 257h2M132.5 257h1M135.5 257h3M140.5 257h.01M143.5 257h1M147.5 257h1M151.5 257h.01M153.5 257h.01M164.5 257h.01M83.5 258h7M92.5 258h14M108.5 258h.01M110.5 258h12M124.5 258h5M132.5 258h.01M134.5 258h1M140.5 258h2M145.5 258h.01M148.5 258h.01M150.5 258h.01M153.5 258h.01M155.5 258h.01M81.5 259h.01M83.5 259h11M96.5 259h5M104.5 259h.01M106.5 259h4M113.5 259h.01M115.5 259h.01M117.5 259h3M124.5 259h.01M126.5 259h5M133.5 259h2M140.5 259h3M146.5 259h1M157.5 259h.01M160.5 259h.01M81.5 260h9M92.5 260h7M103.5 260h4M109.5 260h7M118.5 260h3M127.5 260h2M131.5 260h3M136.5 260h8M81.5 261h17M102.5 261h.01M104.5 261h3M109.5 261h.01M111.5 261h2M115.5 261h1M118.5 261h1M121.5 261h2M125.5 261h2M130.5 261h.01M133.5 261h.01M136.5 261h.01M139.5 261h3M79.5 262h4M85.5 262h10M97.5 262h2M104.5 262h5M111.5 262h4M119.5 262h1M127.5 262h2M132.5 262h.01M144.5 262h.01M78.5 263h18M98.5 263h.01M101.5 263h.01M104.5 263h2M109.5 263h4M118.5 263h3M124.5 263h1M133.5 263h.01M79.5 264h6M87.5 264h8M99.5 264h.01M101.5 264h1M104.5 264h1M108.5 264h2M112.5 264h.01M115.5 264h.01M117.5 264h3M122.5 264h2M127.5 264h.01M129.5 264h.01M133.5 264h.01M137.5 264h.01M147.5 264h.01M77.5 265h.01M79.5 265h1M82.5 265h11M95.5 265h1M98.5 265h2M102.5 265h2M106.5 265h1M110.5 265h3M115.5 265h1M119.5 265h.01M122.5 265h.01M125.5 265h.01M128.5 265h.01M132.5 265h1M136.5 265h.01M139.5 265h.01M144.5 265h.01M147.5 265h.01M77.5 266h15M95.5 266h.01M99.5 266h1M106.5 266h.01M108.5 266h.01M119.5 266h.01M122.5 266h1M130.5 266h.01M132.5 266h.01M136.5 266h.01M138.5 266h2M77.5 267h1M80.5 267h12M96.5 267h.01M98.5 267h.01M101.5 267h.01M106.5 267h.01M112.5 267h1M121.5 267h.01M129.5 267h.01M132.5 267h.01M134.5 267h1M145.5 267h.01M76.5 268h.01M78.5 268h9M89.5 268h2M100.5 268h.01M105.5 268h.01M108.5 268h.01M112.5 268h.01M120.5 268h1M126.5 268h.01M129.5 268h.01M139.5 268h.01M144.5 268h.01M76.5 269h3M81.5 269h1M84.5 269h.01M86.5 269h1M89.5 269h1M92.5 269h.01M100.5 269h.01M104.5 269h.01M108.5 269h2M112.5 269h.01M116.5 269h.01M119.5 269h1M126.5 269h.01M129.5 269h.01M136.5 269h.01M78.5 270h8M88.5 270h.01M90.5 270h.01M107.5 270h.01M117.5 270h1M129.5 270h.01M150.5 270h.01M76.5 271h.01M78.5 271h3M83.5 271h.01M99.5 271h.01M101.5 271h.01M108.5 271h.01M111.5 271h.01M113.5 271h1M117.5 271h.01M125.5 271h.01M139.5 271h.01M76.5 272h1M79.5 272h.01M81.5 272h1M113.5 272h.01M116.5 272h1M121.5 272h.01M125.5 272h.01M78.5 273h.01M83.5 273h.01M105.5 273h.01M119.5 273h.01M123.5 273h.01M125.5 273h.01M127.5 273h.01" stroke="#000" stroke-width="1.4" stroke-linecap="round" fill="none" transform="translate(0 0.5)"/>
<path d="M72.2 157H198V275" stroke="#000" stroke-width="1.3" fill="none"/>
<path d="M72.2 156.5V275H198.5" stroke="#000" stroke-width="1.6" fill="none"/>
<path d="M116.5 157V275M72.2 230.5H198" stroke="#000" stroke-width="1.4" fill="none"/>
<path d="M72.2 275v5.2M72.2 275.0h-5.6M81.7 275v3.0M72.2 266.1h-3.2M87.2 275v3.0M72.2 260.9h-3.2M91.1 275v3.0M72.2 257.2h-3.2M94.2 275v3.0M72.2 254.4h-3.2M96.7 275v3.0M72.2 252.0h-3.2M98.8 275v3.0M72.2 250.1h-3.2M100.6 275v3.0M72.2 248.4h-3.2M102.2 275v3.0M72.2 246.8h-3.2M103.7 275v5.2M72.2 245.5h-5.6M113.1 275v3.0M72.2 236.6h-3.2M118.7 275v3.0M72.2 231.4h-3.2M122.6 275v3.0M72.2 227.7h-3.2M125.6 275v3.0M72.2 224.9h-3.2M128.1 275v3.0M72.2 222.5h-3.2M130.2 275v3.0M72.2 220.6h-3.2M132.1 275v3.0M72.2 218.9h-3.2M133.7 275v3.0M72.2 217.3h-3.2M135.1 275v5.2M72.2 216.0h-5.6M144.6 275v3.0M72.2 207.1h-3.2M150.1 275v3.0M72.2 201.9h-3.2M154.0 275v3.0M72.2 198.2h-3.2M157.1 275v3.0M72.2 195.4h-3.2M159.6 275v3.0M72.2 193.0h-3.2M161.7 275v3.0M72.2 191.1h-3.2M163.5 275v3.0M72.2 189.4h-3.2M165.1 275v3.0M72.2 187.8h-3.2M166.6 275v5.2M72.2 186.5h-5.6M176.0 275v3.0M72.2 177.6h-3.2M181.6 275v3.0M72.2 172.4h-3.2M185.5 275v3.0M72.2 168.7h-3.2M188.5 275v3.0M72.2 165.9h-3.2M191.0 275v3.0M72.2 163.5h-3.2M193.1 275v3.0M72.2 161.6h-3.2M195.0 275v3.0M72.2 159.9h-3.2M196.6 275v3.0M72.2 158.3h-3.2M198.0 275v5.2M72.2 157.0h-5.6" stroke="#000" stroke-width="0.9" fill="none"/>
<text font-size="8.8" text-anchor="middle" transform="translate(63.900000000000006 276.3) rotate(-90)">10<tspan dy="-4.4" font-size="7.5">0</tspan></text>
<text font-size="8.8" text-anchor="middle" transform="translate(63.900000000000006 246.8) rotate(-90)">10<tspan dy="-4.4" font-size="7.5">1</tspan></text>
<text font-size="8.8" text-anchor="middle" transform="translate(63.900000000000006 217.3) rotate(-90)">10<tspan dy="-4.4" font-size="7.5">2</tspan></text>
<text font-size="8.8" text-anchor="middle" transform="translate(63.900000000000006 187.8) rotate(-90)">10<tspan dy="-4.4" font-size="7.5">3</tspan></text>
<text font-size="8.8" text-anchor="middle" transform="translate(63.900000000000006 158.3) rotate(-90)">10<tspan dy="-4.4" font-size="7.5">4</tspan></text>
<text transform="translate(51.2 216.0) rotate(-90) scale(0.89 1)" font-size="9" text-anchor="middle" font-weight="bold">FL2-H</text>
<text font-size="8.8" text-anchor="middle" x="76.60000000000001" y="289.2">10<tspan dy="-4.4" font-size="7.5">0</tspan></text>
<text font-size="8.8" text-anchor="middle" x="108.05000000000001" y="289.2">10<tspan dy="-4.4" font-size="7.5">1</tspan></text>
<text font-size="8.8" text-anchor="middle" x="139.5" y="289.2">10<tspan dy="-4.4" font-size="7.5">2</tspan></text>
<text font-size="8.8" text-anchor="middle" x="170.95000000000002" y="289.2">10<tspan dy="-4.4" font-size="7.5">3</tspan></text>
<text font-size="8.8" text-anchor="middle" x="197.7" y="289.2">10<tspan dy="-4.4" font-size="7.5">4</tspan></text>
<text transform="translate(134.5 298.2) scale(0.89 1)" font-size="9" text-anchor="middle" font-weight="bold">FL1-H</text>
<path d="M277.5 194h.01M300.5 195h.01M277.5 196h.01M304.5 196h.01M273.5 198h.01M284.5 198h.01M287.5 198h.01M293.5 198h.01M297.5 198h.01M299.5 198h1M294.5 199h.01M305.5 200h.01M296.5 201h.01M313.5 201h.01M260.5 202h.01M266.5 202h.01M271.5 202h.01M280.5 202h.01M290.5 202h.01M302.5 202h.01M259.5 203h.01M272.5 203h1M277.5 203h.01M289.5 203h.01M297.5 203h.01M301.5 203h.01M261.5 204h.01M270.5 204h.01M273.5 204h.01M294.5 204h.01M298.5 204h.01M271.5 205h1M281.5 205h.01M290.5 205h.01M303.5 205h.01M261.5 206h.01M281.5 206h.01M289.5 206h.01M312.5 206h.01M266.5 207h.01M272.5 207h.01M286.5 207h.01M296.5 207h1M300.5 207h.01M255.5 208h.01M265.5 208h.01M268.5 208h.01M283.5 208h.01M289.5 208h1M295.5 208h.01M298.5 208h1M307.5 208h.01M238.5 209h.01M246.5 209h.01M248.5 209h.01M267.5 209h.01M271.5 209h.01M284.5 209h2M288.5 209h.01M307.5 209h.01M311.5 209h.01M315.5 209h.01M238.5 210h.01M242.5 210h.01M253.5 210h.01M257.5 210h.01M260.5 210h.01M262.5 210h.01M271.5 210h1M279.5 210h.01M285.5 210h.01M290.5 210h.01M293.5 210h.01M295.5 210h1M306.5 210h.01M311.5 210h.01M237.5 211h.01M248.5 211h.01M250.5 211h.01M256.5 211h.01M260.5 211h.01M269.5 211h1M272.5 211h.01M280.5 211h.01M291.5 211h.01M294.5 211h1M297.5 211h.01M304.5 211h1M310.5 211h.01M234.5 212h.01M238.5 212h.01M251.5 212h1M265.5 212h.01M268.5 212h1M276.5 212h.01M279.5 212h.01M287.5 212h.01M290.5 212h.01M303.5 212h.01M305.5 212h1M310.5 212h.01M227.5 213h.01M248.5 213h.01M254.5 213h.01M257.5 213h2M262.5 213h.01M267.5 213h1M284.5 213h.01M290.5 213h2M298.5 213h1M305.5 213h.01M309.5 213h.01M222.5 214h.01M228.5 214h.01M239.5 214h1M247.5 214h.01M257.5 214h1M263.5 214h.01M269.5 214h.01M271.5 214h.01M282.5 214h.01M284.5 214h.01M288.5 214h.01M292.5 214h.01M295.5 214h.01M297.5 214h.01M305.5 214h.01M308.5 214h.01M244.5 215h1M258.5 215h.01M264.5 215h1M268.5 215h1M275.5 215h.01M278.5 215h.01M285.5 215h.01M287.5 215h.01M290.5 215h1M293.5 215h.01M295.5 215h.01M299.5 215h.01M301.5 215h.01M308.5 215h.01M310.5 215h.01M251.5 216h.01M254.5 216h.01M259.5 216h.01M264.5 216h.01M266.5 216h.01M270.5 216h.01M275.5 216h1M282.5 216h.01M299.5 216h.01M303.5 216h.01M310.5 216h1M226.5 217h.01M230.5 217h.01M241.5 217h.01M243.5 217h.01M246.5 217h1M252.5 217h.01M259.5 217h1M263.5 217h.01M265.5 217h1M268.5 217h.01M271.5 217h.01M277.5 217h.01M280.5 217h.01M282.5 217h.01M286.5 217h.01M295.5 217h.01M301.5 217h.01M305.5 217h1M314.5 217h.01M234.5 218h.01M236.5 218h.01M247.5 218h.01M250.5 218h.01M256.5 218h2M260.5 218h.01M263.5 218h.01M268.5 218h.01M276.5 218h.01M283.5 218h1M286.5 218h.01M288.5 218h1M293.5 218h.01M298.5 218h.01M308.5 218h.01M311.5 218h.01M316.5 218h.01M220.5 219h.01M258.5 219h3M263.5 219h1M268.5 219h.01M270.5 219h.01M273.5 219h.01M278.5 219h.01M280.5 219h.01M285.5 219h.01M288.5 219h.01M291.5 219h.01M300.5 219h2M304.5 219h.01M307.5 219h.01M311.5 219h1M315.5 219h.01M255.5 220h.01M259.5 220h.01M262.5 220h.01M264.5 220h1M272.5 220h2M278.5 220h.01M283.5 220h.01M291.5 220h.01M297.5 220h3M302.5 220h1M308.5 220h.01M224.5 221h.01M229.5 221h1M237.5 221h1M253.5 221h.01M260.5 221h.01M263.5 221h.01M265.5 221h.01M267.5 221h.01M274.5 221h.01M278.5 221h1M292.5 221h1M300.5 221h1M303.5 221h.01M310.5 221h.01M315.5 221h.01M231.5 222h.01M242.5 222h1M250.5 222h.01M255.5 222h1M258.5 222h.01M261.5 222h2M271.5 222h.01M277.5 222h.01M281.5 222h.01M285.5 222h.01M288.5 222h.01M291.5 222h.01M299.5 222h.01M302.5 222h.01M305.5 222h.01M316.5 222h.01M225.5 223h.01M245.5 223h.01M248.5 223h.01M251.5 223h.01M254.5 223h.01M267.5 223h.01M275.5 223h1M278.5 223h.01M285.5 223h.01M294.5 223h.01M299.5 223h1M304.5 223h1M309.5 223h1M317.5 223h.01M246.5 224h.01M248.5 224h.01M256.5 224h.01M260.5 224h2M264.5 224h1M267.5 224h.01M273.5 224h1M286.5 224h1M289.5 224h.01M292.5 224h1M296.5 224h.01M302.5 224h.01M306.5 224h.01M308.5 224h.01M314.5 224h.01M318.5 224h.01M321.5 224h.01M228.5 225h.01M238.5 225h.01M241.5 225h.01M243.5 225h.01M246.5 225h.01M257.5 225h.01M259.5 225h1M263.5 225h.01M267.5 225h.01M272.5 225h.01M277.5 225h.01M285.5 225h.01M289.5 225h1M293.5 225h3M303.5 225h.01M309.5 225h1M312.5 225h.01M245.5 226h.01M256.5 226h.01M262.5 226h2M266.5 226h.01M268.5 226h2M276.5 226h.01M281.5 226h.01M285.5 226h1M288.5 226h.01M291.5 226h.01M295.5 226h1M300.5 226h.01M306.5 226h2M311.5 226h.01M313.5 226h.01M315.5 226h.01M230.5 227h.01M237.5 227h.01M252.5 227h.01M255.5 227h.01M258.5 227h.01M261.5 227h.01M269.5 227h.01M272.5 227h1M275.5 227h.01M282.5 227h2M287.5 227h.01M292.5 227h.01M295.5 227h.01M302.5 227h.01M304.5 227h2M308.5 227h.01M243.5 228h.01M249.5 228h.01M252.5 228h.01M256.5 228h1M263.5 228h.01M267.5 228h.01M270.5 228h.01M274.5 228h.01M281.5 228h.01M287.5 228h.01M290.5 228h.01M292.5 228h.01M294.5 228h.01M296.5 228h.01M304.5 228h3M309.5 228h1M314.5 228h.01M236.5 229h.01M246.5 229h.01M252.5 229h.01M256.5 229h.01M258.5 229h.01M265.5 229h3M272.5 229h.01M280.5 229h1M284.5 229h.01M289.5 229h.01M292.5 229h.01M302.5 229h.01M305.5 229h2M321.5 229h.01M242.5 230h.01M249.5 230h.01M251.5 230h.01M255.5 230h.01M265.5 230h.01M275.5 230h1M278.5 230h.01M280.5 230h.01M282.5 230h.01M285.5 230h3M290.5 230h.01M294.5 230h.01M296.5 230h.01M298.5 230h.01M300.5 230h2M304.5 230h1M309.5 230h1M318.5 230h.01M324.5 230h.01M251.5 231h.01M256.5 231h.01M259.5 231h.01M262.5 231h1M265.5 231h.01M267.5 231h1M271.5 231h.01M283.5 231h1M292.5 231h.01M295.5 231h2M306.5 231h.01M308.5 231h.01M310.5 231h2M314.5 231h.01M318.5 231h1M244.5 232h.01M249.5 232h.01M253.5 232h.01M257.5 232h.01M264.5 232h.01M273.5 232h.01M276.5 232h.01M279.5 232h.01M284.5 232h1M287.5 232h1M293.5 232h1M296.5 232h.01M305.5 232h1M309.5 232h.01M316.5 232h.01M319.5 232h1M244.5 233h.01M247.5 233h.01M252.5 233h.01M257.5 233h1M260.5 233h.01M263.5 233h1M271.5 233h1M275.5 233h1M279.5 233h.01M286.5 233h.01M294.5 233h1M297.5 233h.01M302.5 233h.01M308.5 233h.01M312.5 233h.01M319.5 233h.01M323.5 233h.01M242.5 234h.01M247.5 234h1M251.5 234h2M260.5 234h1M267.5 234h2M271.5 234h.01M273.5 234h.01M276.5 234h.01M282.5 234h2M286.5 234h3M293.5 234h7M302.5 234h.01M304.5 234h.01M306.5 234h1M309.5 234h.01M312.5 234h3M318.5 234h.01M320.5 234h.01M240.5 235h.01M246.5 235h1M249.5 235h1M253.5 235h.01M255.5 235h.01M259.5 235h.01M261.5 235h.01M265.5 235h.01M267.5 235h.01M274.5 235h1M277.5 235h3M282.5 235h1M285.5 235h3M290.5 235h3M295.5 235h.01M297.5 235h2M301.5 235h4M308.5 235h9M244.5 236h.01M246.5 236h2M250.5 236h7M259.5 236h.01M261.5 236h.01M263.5 236h.01M267.5 236h9M278.5 236h6M286.5 236h8M298.5 236h.01M300.5 236h1M308.5 236h3M313.5 236h3M318.5 236h1M243.5 237h.01M247.5 237h.01M249.5 237h1M252.5 237h5M259.5 237h1M263.5 237h1M266.5 237h2M270.5 237h4M276.5 237h.01M278.5 237h.01M282.5 237h.01M285.5 237h.01M288.5 237h.01M290.5 237h5M298.5 237h1M301.5 237h3M306.5 237h6M317.5 237h1M320.5 237h.01M239.5 238h.01M242.5 238h.01M244.5 238h.01M246.5 238h2M250.5 238h4M256.5 238h1M259.5 238h8M270.5 238h2M274.5 238h1M278.5 238h2M282.5 238h3M292.5 238h.01M295.5 238h6M303.5 238h4M309.5 238h3M314.5 238h1M323.5 238h.01M245.5 239h13M260.5 239h.01M264.5 239h3M270.5 239h1M273.5 239h1M276.5 239h1M279.5 239h.01M282.5 239h5M289.5 239h10M301.5 239h3M306.5 239h.01M309.5 239h.01M311.5 239h2M317.5 239h1M320.5 239h1M244.5 240h15M261.5 240h.01M263.5 240h5M271.5 240h4M277.5 240h8M287.5 240h.01M289.5 240h.01M292.5 240h6M300.5 240h1M303.5 240h.01M305.5 240h7M244.5 241h1M247.5 241h12M261.5 241h15M278.5 241h3M283.5 241h5M290.5 241h.01M292.5 241h.01M295.5 241h4M302.5 241h7M313.5 241h.01M239.5 242h18M260.5 242h1M263.5 242h15M281.5 242h.01M283.5 242h2M287.5 242h4M293.5 242h2M298.5 242h4M304.5 242h1M307.5 242h6M317.5 242h.01M322.5 242h.01M237.5 243h.01M239.5 243h2M243.5 243h8M253.5 243h4M261.5 243h8M271.5 243h5M278.5 243h.01M280.5 243h5M288.5 243h.01M290.5 243h4M296.5 243h8M308.5 243h.01M310.5 243h.01M312.5 243h1M316.5 243h.01M321.5 243h.01M237.5 244h.01M239.5 244h.01M241.5 244h5M248.5 244h8M258.5 244h4M264.5 244h3M269.5 244h10M281.5 244h1M286.5 244h.01M288.5 244h4M294.5 244h2M298.5 244h5M305.5 244h3M311.5 244h.01M313.5 244h.01M235.5 245h.01M238.5 245h6M246.5 245h1M249.5 245h10M261.5 245h5M268.5 245h2M272.5 245h6M280.5 245h2M284.5 245h1M287.5 245h13M302.5 245h4M309.5 245h1M312.5 245h1M234.5 246h.01M236.5 246h25M263.5 246h2M267.5 246h.01M269.5 246h3M274.5 246h3M279.5 246h6M287.5 246h.01M289.5 246h.01M291.5 246h1M294.5 246h.01M296.5 246h4M302.5 246h6M310.5 246h1M229.5 247h.01M233.5 247h1M237.5 247h21M263.5 247h4M270.5 247h3M275.5 247h.01M277.5 247h7M286.5 247h4M292.5 247h4M298.5 247h5M305.5 247h1M309.5 247h.01M311.5 247h.01M314.5 247h.01M317.5 247h1M230.5 248h.01M233.5 248h4M239.5 248h16M257.5 248h4M263.5 248h.01M265.5 248h1M269.5 248h1M272.5 248h1M275.5 248h6M283.5 248h8M293.5 248h3M298.5 248h5M305.5 248h1M312.5 248h1M321.5 248h.01M228.5 249h.01M230.5 249h.01M233.5 249h3M238.5 249h1M241.5 249h21M264.5 249h2M268.5 249h1M271.5 249h1M275.5 249h2M279.5 249h3M284.5 249h5M291.5 249h6M299.5 249h1M303.5 249h2M307.5 249h.01M312.5 249h1M229.5 250h1M233.5 250h10M245.5 250h10M257.5 250h.01M260.5 250h3M265.5 250h2M270.5 250h3M275.5 250h2M280.5 250h.01M282.5 250h11M295.5 250h.01M297.5 250h1M300.5 250h5M311.5 250h.01M317.5 250h.01M320.5 250h.01M228.5 251h.01M230.5 251h37M269.5 251h1M272.5 251h1M275.5 251h.01M277.5 251h3M283.5 251h.01M285.5 251h9M296.5 251h.01M300.5 251h4M306.5 251h.01M309.5 251h.01M311.5 251h.01M313.5 251h.01M228.5 252h11M241.5 252h13M256.5 252h3M262.5 252h1M265.5 252h4M272.5 252h2M276.5 252h1M280.5 252h.01M282.5 252h13M297.5 252h1M301.5 252h1M304.5 252h.01M308.5 252h.01M223.5 253h.01M226.5 253h.01M228.5 253h28M258.5 253h1M261.5 253h.01M263.5 253h4M269.5 253h10M281.5 253h6M289.5 253h4M295.5 253h.01M297.5 253h.01M299.5 253h1M303.5 253h1M306.5 253h.01M312.5 253h.01M224.5 254h29M256.5 254h17M276.5 254h14M294.5 254h1M299.5 254h.01M301.5 254h2M309.5 254h.01M224.5 255h.01M226.5 255h11M239.5 255h1M242.5 255h19M265.5 255h.01M267.5 255h2M273.5 255h1M276.5 255h6M284.5 255h1M287.5 255h8M297.5 255h.01M300.5 255h.01M302.5 255h.01M224.5 256h6M232.5 256h10M244.5 256h2M248.5 256h1M256.5 256h1M259.5 256h18M279.5 256h.01M281.5 256h1M284.5 256h10M296.5 256h.01M298.5 256h.01M301.5 256h.01M303.5 256h.01M307.5 256h.01M221.5 257h.01M223.5 257h.01M225.5 257h6M233.5 257h1M236.5 257h2M241.5 257h5M248.5 257h8M258.5 257h.01M260.5 257h1M263.5 257h4M271.5 257h10M283.5 257h3M288.5 257h4M294.5 257h.01M296.5 257h1M299.5 257h.01M307.5 257h.01M218.5 258h.01M223.5 258h6M231.5 258h.01M233.5 258h1M236.5 258h7M246.5 258h1M249.5 258h4M255.5 258h.01M257.5 258h1M260.5 258h4M267.5 258h.01M269.5 258h.01M271.5 258h3M276.5 258h6M285.5 258h.01M287.5 258h2M291.5 258h.01M293.5 258h.01M295.5 258h2M303.5 258h.01M220.5 259h22M244.5 259h1M247.5 259h1M251.5 259h1M254.5 259h3M259.5 259h6M269.5 259h.01M271.5 259h2M275.5 259h2M280.5 259h1M284.5 259h1M287.5 259h3M293.5 259h.01M297.5 259h1M301.5 259h2M218.5 260h.01M221.5 260h3M227.5 260h9M238.5 260h2M243.5 260h.01M245.5 260h10M258.5 260h6M266.5 260h.01M268.5 260h3M273.5 260h2M277.5 260h5M284.5 260h1M288.5 260h1M294.5 260h.01M301.5 260h.01M217.5 261h.01M219.5 261h.01M221.5 261h5M228.5 261h10M241.5 261h.01M244.5 261h6M252.5 261h6M260.5 261h.01M262.5 261h.01M264.5 261h4M270.5 261h4M276.5 261h.01M278.5 261h.01M280.5 261h1M284.5 261h4M290.5 261h.01M293.5 261h.01M297.5 261h.01M220.5 262h5M227.5 262h8M238.5 262h1M243.5 262h.01M246.5 262h.01M250.5 262h6M258.5 262h.01M260.5 262h.01M262.5 262h.01M264.5 262h3M269.5 262h.01M271.5 262h2M275.5 262h1M278.5 262h.01M281.5 262h.01M288.5 262h2M292.5 262h1M305.5 262h.01M217.5 263h.01M219.5 263h11M232.5 263h3M237.5 263h2M241.5 263h1M251.5 263h.01M253.5 263h4M259.5 263h1M262.5 263h1M266.5 263h.01M268.5 263h.01M270.5 263h.01M272.5 263h3M278.5 263h1M281.5 263h.01M290.5 263h.01M294.5 263h.01M221.5 264h14M238.5 264h.01M242.5 264h1M245.5 264h.01M249.5 264h.01M252.5 264h2M257.5 264h14M273.5 264h.01M275.5 264h.01M277.5 264h.01M279.5 264h.01M283.5 264h1M291.5 264h.01M218.5 265h1M222.5 265h10M235.5 265h.01M240.5 265h.01M242.5 265h.01M245.5 265h.01M247.5 265h1M251.5 265h1M258.5 265h.01M260.5 265h.01M262.5 265h.01M265.5 265h.01M268.5 265h2M272.5 265h1M276.5 265h.01M279.5 265h.01M281.5 265h1M287.5 265h1M216.5 266h.01M218.5 266h4M224.5 266h2M228.5 266h1M233.5 266h1M247.5 266h.01M250.5 266h1M258.5 266h2M267.5 266h1M270.5 266h.01M272.5 266h1M278.5 266h1M285.5 266h.01M291.5 266h.01M216.5 267h2M220.5 267h5M227.5 267h.01M229.5 267h2M233.5 267h.01M240.5 267h.01M242.5 267h.01M247.5 267h.01M250.5 267h.01M253.5 267h2M261.5 267h.01M263.5 267h.01M265.5 267h1M268.5 267h2M272.5 267h.01M277.5 267h.01M219.5 268h.01M221.5 268h1M224.5 268h.01M227.5 268h.01M229.5 268h2M234.5 268h.01M237.5 268h.01M240.5 268h.01M242.5 268h2M246.5 268h3M258.5 268h.01M261.5 268h.01M275.5 268h.01M278.5 268h.01M217.5 269h1M220.5 269h3M228.5 269h1M231.5 269h1M239.5 269h.01M256.5 269h.01M259.5 269h.01M274.5 269h.01M279.5 269h.01M218.5 270h.01M220.5 270h.01M227.5 270h.01M233.5 270h.01M239.5 270h.01M241.5 270h.01M255.5 270h.01M260.5 270h2M273.5 270h1M277.5 270h.01M219.5 271h.01M221.5 271h.01M246.5 271h.01M251.5 271h.01M282.5 271h.01M244.5 272h.01M259.5 272h.01M272.5 272h.01M255.5 273h.01" stroke="#000" stroke-width="1.4" stroke-linecap="round" fill="none" transform="translate(0 0.5)"/>
<path d="M212.5 155.2H338.2V275.3" stroke="#000" stroke-width="1.3" fill="none"/>
<path d="M212.5 154.7V275.3H338.7" stroke="#000" stroke-width="1.6" fill="none"/>
<path d="M257.5 155.2V275.3M212.5 229.7H338.2" stroke="#000" stroke-width="1.4" fill="none"/>
<path d="M212.5 275.3v5.2M212.5 275.3h-4.4M222.0 275.3v3.0M212.5 266.3h-2.5M227.5 275.3v3.0M212.5 261.0h-2.5M231.4 275.3v3.0M212.5 257.2h-2.5M234.5 275.3v3.0M212.5 254.3h-2.5M237.0 275.3v3.0M212.5 251.9h-2.5M239.1 275.3v3.0M212.5 249.9h-2.5M240.9 275.3v3.0M212.5 248.2h-2.5M242.5 275.3v3.0M212.5 246.6h-2.5M243.9 275.3v5.2M212.5 245.3h-4.4M253.4 275.3v3.0M212.5 236.2h-2.5M258.9 275.3v3.0M212.5 230.9h-2.5M262.8 275.3v3.0M212.5 227.2h-2.5M265.9 275.3v3.0M212.5 224.3h-2.5M268.4 275.3v3.0M212.5 221.9h-2.5M270.5 275.3v3.0M212.5 219.9h-2.5M272.3 275.3v3.0M212.5 218.2h-2.5M273.9 275.3v3.0M212.5 216.6h-2.5M275.4 275.3v5.2M212.5 215.2h-4.4M284.8 275.3v3.0M212.5 206.2h-2.5M290.3 275.3v3.0M212.5 200.9h-2.5M294.3 275.3v3.0M212.5 197.2h-2.5M297.3 275.3v3.0M212.5 194.3h-2.5M299.8 275.3v3.0M212.5 191.9h-2.5M301.9 275.3v3.0M212.5 189.9h-2.5M303.7 275.3v3.0M212.5 188.1h-2.5M305.3 275.3v3.0M212.5 186.6h-2.5M306.8 275.3v5.2M212.5 185.2h-4.4M316.2 275.3v3.0M212.5 176.2h-2.5M321.8 275.3v3.0M212.5 170.9h-2.5M325.7 275.3v3.0M212.5 167.1h-2.5M328.7 275.3v3.0M212.5 164.2h-2.5M331.2 275.3v3.0M212.5 161.9h-2.5M333.3 275.3v3.0M212.5 159.9h-2.5M335.2 275.3v3.0M212.5 158.1h-2.5M336.8 275.3v3.0M212.5 156.6h-2.5M338.2 275.3v5.2M212.5 155.2h-4.4" stroke="#000" stroke-width="0.9" fill="none"/>
<text font-size="8.8" text-anchor="middle" x="216.9" y="289.5">10<tspan dy="-4.4" font-size="7.5">0</tspan></text>
<text font-size="8.8" text-anchor="middle" x="248.32500000000002" y="289.5">10<tspan dy="-4.4" font-size="7.5">1</tspan></text>
<text font-size="8.8" text-anchor="middle" x="279.75" y="289.5">10<tspan dy="-4.4" font-size="7.5">2</tspan></text>
<text font-size="8.8" text-anchor="middle" x="311.17499999999995" y="289.5">10<tspan dy="-4.4" font-size="7.5">3</tspan></text>
<text font-size="8.8" text-anchor="middle" x="337.9" y="289.5">10<tspan dy="-4.4" font-size="7.5">4</tspan></text>
<text transform="translate(274.75 298.5) scale(0.89 1)" font-size="9" text-anchor="middle" font-weight="bold">FL1-H</text>
<text transform="translate(74.2 37.6) scale(0.93 1)" font-size="17.2" text-anchor="start">2</text>
<text transform="translate(193.2 37.3) scale(0.93 1)" font-size="17.2" text-anchor="end">2.6</text>
<text transform="translate(191.8 132.2) scale(0.93 1)" font-size="17.2" text-anchor="end">30</text>
<text transform="translate(217.3 37.3) scale(0.93 1)" font-size="17.2" text-anchor="start">0.3</text>
<text transform="translate(330.8 37.3) scale(0.93 1)" font-size="17.2" text-anchor="end">2</text>
<text transform="translate(334.8 132.2) scale(0.93 1)" font-size="17.2" text-anchor="end">58</text>
<text transform="translate(75.3 174.6) scale(0.93 1)" font-size="17.2" text-anchor="start">3.5</text>
<text transform="translate(193.8 174.6) scale(0.93 1)" font-size="17.2" text-anchor="end">1.6</text>
<text transform="translate(191.8 272) scale(0.93 1)" font-size="17.2" text-anchor="end">23</text>
<text transform="translate(217.3 174.4) scale(0.93 1)" font-size="17.2" text-anchor="start">2.2</text>
<text transform="translate(337.8 174.2) scale(0.93 1)" font-size="17.2" text-anchor="end">7.3</text>
<text transform="translate(335 271.3) scale(0.93 1)" font-size="17.2" text-anchor="end">33</text>
<text transform="translate(0.3 18.5) scale(0.97 1)" font-size="25.5" text-anchor="start" font-weight="bold">A</text>
<text transform="translate(359.8 18.3) scale(0.97 1)" font-size="25" text-anchor="start" font-weight="bold">B</text>
<text transform="translate(359.8 184.2) scale(0.97 1)" font-size="25" text-anchor="start" font-weight="bold">C</text>
<text transform="translate(130.2 13.4) scale(1.0 1)" font-size="14.5" text-anchor="start" font-weight="bold">–</text>
<text transform="translate(16.6 94.1) scale(1.1 1)" font-size="17.5" text-anchor="start" font-weight="bold">-</text>
<text transform="translate(274.4 12.8) scale(0.92 1)" font-size="17.5" text-anchor="middle">LPS</text>
<text transform="translate(0.2 218.5) scale(0.93 1)" font-size="17.5" text-anchor="start">ADO</text>
<text transform="translate(43.3 270.2) rotate(-90) scale(0.93 1)" font-size="17" text-anchor="start">IL-4</text>
<text transform="translate(91.8 314.4) scale(0.93 1)" font-size="17" text-anchor="start">IFN-<tspan font-family='"Liberation Serif", "DejaVu Serif", serif' font-size="16.5">γ</tspan></text>
<path d="M37.5 284V310H69" stroke="#000" stroke-width="1.3" fill="none"/>
<path d="M37.5 275.5L32.6 285.5H42.4ZM77.8 310L68 305.2V314.8Z" fill="#000"/>
<path d="M393.4 6.1H516.2V129.5" stroke="#000" stroke-width="0.9" fill="none"/>
<path d="M393.4 6.1V129.5H516.2" stroke="#000" stroke-width="1.2" fill="none"/>
<text x="389.09999999999997" y="131.6" font-size="7.8" font-weight="bold" text-anchor="end">0</text>
<text x="389.09999999999997" y="114.0" font-size="7.8" font-weight="bold" text-anchor="end">1</text>
<text x="389.09999999999997" y="96.3" font-size="7.8" font-weight="bold" text-anchor="end">2</text>
<text x="389.09999999999997" y="78.7" font-size="7.8" font-weight="bold" text-anchor="end">3</text>
<text x="389.09999999999997" y="61.1" font-size="7.8" font-weight="bold" text-anchor="end">4</text>
<text x="389.09999999999997" y="43.5" font-size="7.8" font-weight="bold" text-anchor="end">5</text>
<text x="389.09999999999997" y="25.3" font-size="7.8" font-weight="bold" text-anchor="end">6</text>
<text x="389.09999999999997" y="6.7" font-size="7.8" font-weight="bold" text-anchor="end">7</text>
<path d="M393.4 129.5h-3.4M393.4 120.7h-2M393.4 111.9h-3.4M393.4 103.1h-2M393.4 94.2h-3.4M393.4 85.4h-2M393.4 76.6h-3.4M393.4 67.8h-2M393.4 59.0h-3.4M393.4 50.2h-2M393.4 41.4h-3.4M393.4 32.5h-2M393.4 23.7h-3.4M393.4 14.9h-2M393.4 6.1h-3.4" stroke="#000" stroke-width="0.9" fill="none"/>
<text transform="translate(369.59999999999997 61.5) rotate(-90) scale(1.04 1)" font-size="9.4" text-anchor="middle" font-weight="bold">ng/mL</text>
<path d="M401.2 110.1V106.6M399.3 106.6h3.8" stroke="#000" stroke-width="1" fill="none"/>
<rect x="398.0" y="110.6" width="6.4" height="18.9" fill="#fff" stroke="#000" stroke-width="0.95"/>
<path d="M412.1 81.6V80.5M410.2 80.5h3.8" stroke="#000" stroke-width="1" fill="none"/>
<rect x="408.3" y="81.6" width="7.5" height="47.9" fill="#000"/>
<path d="M433.1 117.2V113.1M431.2 113.1h3.8" stroke="#000" stroke-width="1" fill="none"/>
<rect x="429.8" y="117.7" width="6.7" height="11.8" fill="#fff" stroke="#000" stroke-width="0.95"/>
<path d="M444.4 30.8V16.7M442.5 16.7h3.8" stroke="#000" stroke-width="1" fill="none"/>
<rect x="440.6" y="30.8" width="7.5" height="98.7" fill="#000"/>
<path d="M465.8 70.1V59.9M463.9 59.9h3.8" stroke="#000" stroke-width="1" fill="none"/>
<rect x="462.5" y="70.6" width="6.6" height="58.9" fill="#fff" stroke="#000" stroke-width="0.95"/>
<path d="M476.7 103.1V89.3M474.8 89.3h3.8" stroke="#000" stroke-width="1" fill="none"/>
<rect x="473" y="103.1" width="7.4" height="26.4" fill="#000"/>
<path d="M498.2 104.1V99.5M496.3 99.5h3.8" stroke="#000" stroke-width="1" fill="none"/>
<rect x="494.9" y="104.6" width="6.6" height="24.9" fill="#fff" stroke="#000" stroke-width="0.95"/>
<path d="M508.9 42.6V34.3M507.0 34.3h3.8" stroke="#000" stroke-width="1" fill="none"/>
<rect x="505.1" y="42.6" width="7.6" height="86.9" fill="#000"/>
<text x="444.5" y="19.1" font-size="13" font-weight="bold" text-anchor="middle" stroke="#000" stroke-width="0.5">*</text>
<text x="498" y="101.19999999999999" font-size="13" font-weight="bold" text-anchor="middle" stroke="#000" stroke-width="0.5">*</text>
<text x="509" y="34.9" font-size="13" font-weight="bold" text-anchor="middle" stroke="#000" stroke-width="0.5">*</text>
<text transform="translate(406 140.6) scale(1.05 1)" font-size="9.8" text-anchor="middle">-</text>
<text transform="translate(438.3 140.7) scale(1.05 1)" font-size="9.8" text-anchor="middle">ADO</text>
<text transform="translate(471 140.7) scale(1.05 1)" font-size="9.8" text-anchor="middle">LPS</text>
<text transform="translate(507 140.7) scale(1.05 1)" font-size="9.8" text-anchor="middle">LPS+</text>
<text transform="translate(505.5 152.0) scale(1.05 1)" font-size="9.8" text-anchor="middle">ADO</text>
<path d="M393.0 171.7H516.0V295.0" stroke="#000" stroke-width="0.9" fill="none"/>
<path d="M393.0 171.7V295.0H516.0" stroke="#000" stroke-width="1.2" fill="none"/>
<text x="388.7" y="297.1" font-size="7.8" font-weight="bold" text-anchor="end">0</text>
<text x="388.7" y="279.5" font-size="7.8" font-weight="bold" text-anchor="end">1</text>
<text x="388.7" y="261.9" font-size="7.8" font-weight="bold" text-anchor="end">2</text>
<text x="388.7" y="244.3" font-size="7.8" font-weight="bold" text-anchor="end">3</text>
<text x="388.7" y="226.6" font-size="7.8" font-weight="bold" text-anchor="end">4</text>
<text x="388.7" y="209.0" font-size="7.8" font-weight="bold" text-anchor="end">5</text>
<text x="388.7" y="190.9" font-size="7.8" font-weight="bold" text-anchor="end">6</text>
<text x="388.7" y="172.3" font-size="7.8" font-weight="bold" text-anchor="end">7</text>
<path d="M393.0 295.0h-3.4M393.0 286.2h-2M393.0 277.4h-3.4M393.0 268.6h-2M393.0 259.8h-3.4M393.0 251.0h-2M393.0 242.2h-3.4M393.0 233.3h-2M393.0 224.5h-3.4M393.0 215.7h-2M393.0 206.9h-3.4M393.0 198.1h-2M393.0 189.3h-3.4M393.0 180.5h-2M393.0 171.7h-3.4" stroke="#000" stroke-width="0.9" fill="none"/>
<text transform="translate(369.2 228.5) rotate(-90) scale(1.04 1)" font-size="9.4" text-anchor="middle" font-weight="bold">ng/mL</text>
<path d="M400.4 276.2V273.0M398.6 273.0h3.8" stroke="#000" stroke-width="1" fill="none"/>
<rect x="397.2" y="276.7" width="6.5" height="18.3" fill="#fff" stroke="#000" stroke-width="0.95"/>
<path d="M411.4 247.4V246.0M409.5 246.0h3.8" stroke="#000" stroke-width="1" fill="none"/>
<rect x="407.7" y="247.4" width="7.4" height="47.6" fill="#000"/>
<path d="M432.3 279.7V274.9M430.4 274.9h3.8" stroke="#000" stroke-width="1" fill="none"/>
<rect x="429.0" y="280.2" width="6.6" height="14.8" fill="#fff" stroke="#000" stroke-width="0.95"/>
<path d="M443.6 221.5V215.2M441.7 215.2h3.8" stroke="#000" stroke-width="1" fill="none"/>
<rect x="439.8" y="221.5" width="7.5" height="73.5" fill="#000"/>
<path d="M465.1 235.6V225.8M463.2 225.8h3.8" stroke="#000" stroke-width="1" fill="none"/>
<rect x="461.8" y="236.1" width="6.6" height="58.9" fill="#fff" stroke="#000" stroke-width="0.95"/>
<path d="M475.6 268.9V255.4M473.7 255.4h3.8" stroke="#000" stroke-width="1" fill="none"/>
<rect x="472" y="268.9" width="7.2" height="26.1" fill="#000"/>
<path d="M496.8 258.0V254.1M494.9 254.1h3.8" stroke="#000" stroke-width="1" fill="none"/>
<rect x="493.5" y="258.5" width="6.6" height="36.5" fill="#fff" stroke="#000" stroke-width="0.95"/>
<path d="M507.5 225.4V218.7M505.6 218.7h3.8" stroke="#000" stroke-width="1" fill="none"/>
<rect x="503.6" y="225.4" width="7.7" height="69.6" fill="#000"/>
<text x="443.7" y="216.1" font-size="13" font-weight="bold" text-anchor="middle" stroke="#000" stroke-width="0.5">*</text>
<text x="496.6" y="255.9" font-size="13" font-weight="bold" text-anchor="middle" stroke="#000" stroke-width="0.5">*</text>
<text x="507" y="220.29999999999998" font-size="13" font-weight="bold" text-anchor="middle" stroke="#000" stroke-width="0.5">*</text>
<text transform="translate(405 306.5) scale(1.05 1)" font-size="9.8" text-anchor="middle">-</text>
<text transform="translate(436.6 306.5) scale(1.05 1)" font-size="9.8" text-anchor="middle">ADO</text>
<text transform="translate(469 306.5) scale(1.05 1)" font-size="9.8" text-anchor="middle">LPS</text>
<text transform="translate(503.8 306.5) scale(1.05 1)" font-size="9.8" text-anchor="middle">LPS+</text>
<text transform="translate(503.2 317.8) scale(1.05 1)" font-size="9.8" text-anchor="middle">ADO</text>
<rect x="466.6" y="176.9" width="16.8" height="7" fill="#fff" stroke="#000" stroke-width="1.1"/>
<rect x="466" y="190.4" width="17.9" height="7.3" fill="#000"/>
<text transform="translate(487.3 184.2) scale(0.92 1)" font-size="10.2" text-anchor="start" font-weight="bold">IFN-<tspan font-family='"Liberation Serif", "DejaVu Serif", serif' font-size="10" font-weight="normal">γ</tspan></text>
<text transform="translate(487.3 197.5) scale(0.95 1)" font-size="10.2" text-anchor="start" font-weight="bold">IL-5</text>
</svg>
</body></html>
